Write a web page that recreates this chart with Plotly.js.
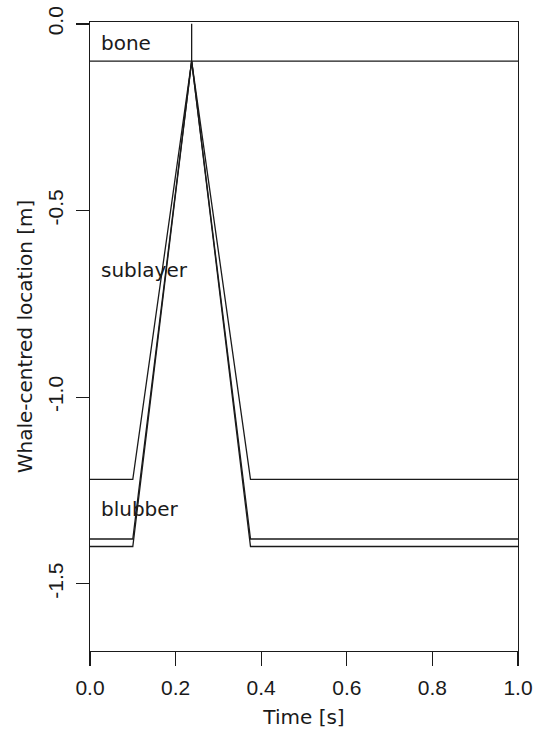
<!DOCTYPE html>
<html>
<head>
<meta charset="utf-8">
<script src="https://cdn.plot.ly/plotly-3.0.1.min.js"></script>
<style>html,body{margin:0;padding:0;background:#fff;}#chart{width:533px;height:734px;}</style>
</head>
<body>
<div id="chart"></div>
<script>
// Time knots [s]
var timeKnots = [0, 0.1, 0.2375, 0.375, 1];
// Whale-centred locations [m] of each boundary
var sublayerTop = [-1.22, -1.22, -0.1, -1.22, -1.22];
var blubberTop = [-1.38, -1.38, -0.1, -1.38, -1.38];
var blubberBottom = [-1.40, -1.40, -0.1, -1.40, -1.40];
var boneTime = [0, 1];
var boneLevel = [-0.1, -0.1];
var impactTime = [0.2375, 0.2375];
var impactLevel = [0, -0.1];
var layerNames = ["bone", "sublayer", "blubber"];
var layerLabelY = [-0.05, -0.66, -1.30];
var xTicks = [0, 0.2, 0.4, 0.6, 0.8, 1.0];
var xTickText = ["0.0", "0.2", "0.4", "0.6", "0.8", "1.0"];
var yTicks = [0, -0.5, -1.0, -1.5];
var yTickText = ["0.0", "-0.5", "-1.0", "-1.5"];

var FONT = "DejaVu Sans, Liberation Sans, Arial, sans-serif";
var TICKFONT = "Liberation Sans, Arial, sans-serif";
var TXT = "#1a1a1a";
var lineStyle = {color: "#1a1a1a", width: 1.3};

var traces = [
  {x: timeKnots, y: sublayerTop},
  {x: timeKnots, y: blubberTop},
  {x: timeKnots, y: blubberBottom},
  {x: boneTime, y: boneLevel},
  {x: impactTime, y: impactLevel}
].map(function (t) {
  return {x: t.x, y: t.y, type: "scatter", mode: "lines", line: lineStyle, hoverinfo: "skip", showlegend: false};
});

var annotations = layerNames.map(function (name, i) {
  return {x: 0.02, y: layerLabelY[i], xref: "x", yref: "y", text: name, showarrow: false,
          xanchor: "left", yanchor: "middle", font: {family: FONT, size: 20, color: TXT}};
});

var layout = {
  width: 533, height: 734,
  margin: {l: 90, r: 15, t: 22, b: 83},
  paper_bgcolor: "#fff", plot_bgcolor: "#fff",
  font: {family: FONT, size: 20, color: TXT},
  showlegend: false,
  xaxis: {
    range: [0, 1], tickvals: xTicks, ticktext: xTickText,
    ticks: "outside", ticklen: 14, tickwidth: 1.3, tickcolor: TXT,
    showgrid: false, zeroline: false, showline: true, linecolor: TXT, linewidth: 1.3, mirror: true,
    tickfont: {family: TICKFONT, size: 21, color: TXT},
    ticklabelstandoff: 3,
    title: {text: "Time [s]", font: {family: FONT, size: 20, color: TXT}, standoff: 12}
  },
  yaxis: {
    range: [-1.68, 0.005], tickvals: yTicks, ticktext: yTickText, tickangle: -90,
    ticks: "outside", ticklen: 13, tickwidth: 1.3, tickcolor: TXT,
    showgrid: false, zeroline: false, showline: true, linecolor: TXT, linewidth: 1.3, mirror: true,
    tickfont: {family: TICKFONT, size: 21, color: TXT},
    ticklabelstandoff: 4,
    title: {text: "Whale-centred location [m]", font: {family: FONT, size: 20, color: TXT}, standoff: 6}
  },
  annotations: annotations
};

Plotly.newPlot("chart", traces, layout, {staticPlot: true, displayModeBar: false});
</script>
</body>
</html>
